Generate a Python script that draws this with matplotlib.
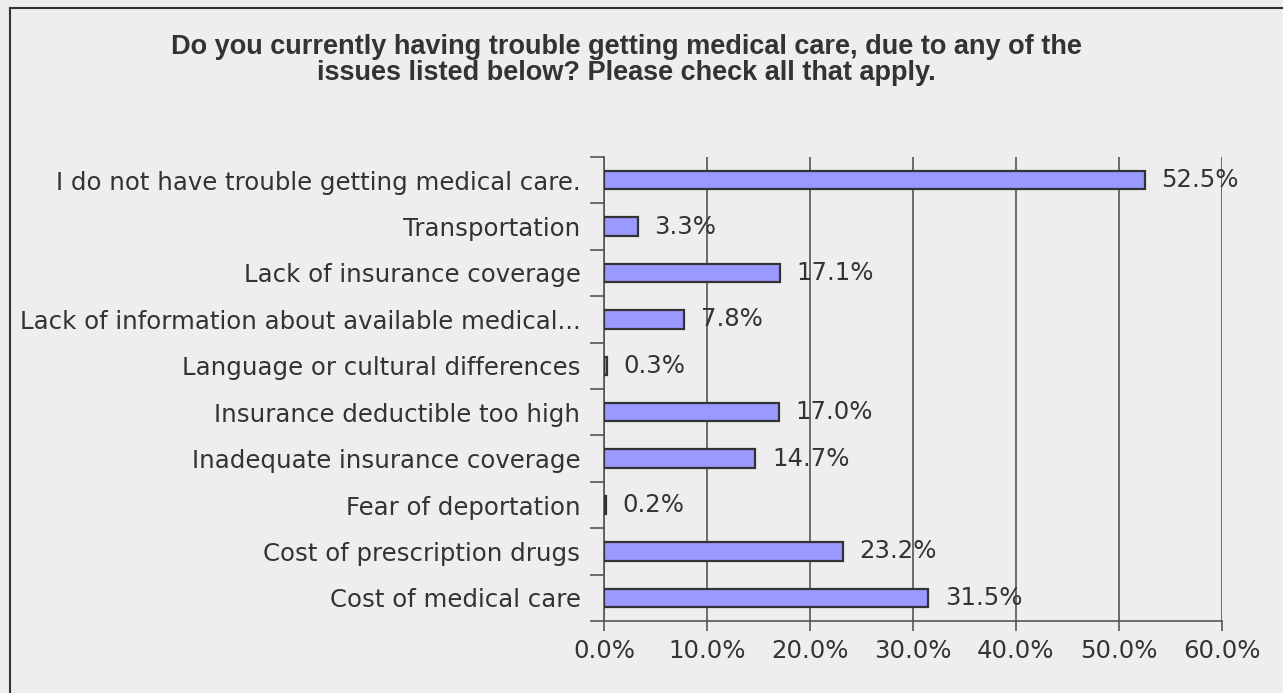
import matplotlib
matplotlib.use('Agg')
import matplotlib.pyplot as plt
from matplotlib.lines import Line2D
from matplotlib.ticker import FixedLocator, NullFormatter

plt.rcParams['font.family'] = ['DejaVu Sans']

# data, top to bottom as in the chart
categories = ['I do not have trouble getting medical care.',
              'Transportation',
              'Lack of insurance coverage',
              'Lack of information about available medical...',
              'Language or cultural differences',
              'Insurance deductible too high',
              'Inadequate insurance coverage',
              'Fear of deportation',
              'Cost of prescription drugs',
              'Cost of medical care']
values = [52.5, 3.3, 17.1, 7.8, 0.3, 17.0, 14.7, 0.2, 23.2, 31.5]
x_ticks = [0, 10, 20, 30, 40, 50, 60]
title = ('Do you currently having trouble getting medical care, due to any of the\n'
         'issues listed below? Please check all that apply.')

bg = '#eeeeee'
txt = '#333333'
grid_c = '#555555'
fs = 17.6

fig = plt.figure(figsize=(12.83, 6.93), dpi=100, facecolor=bg)
ax = fig.add_axes([604 / 1283, 1 - 621 / 693, (1222 - 604) / 1283, (621 - 157) / 693])
ax.set_facecolor(bg)

y_pos = list(range(len(categories)))
ax.barh(y_pos, values, height=0.4, color='#9999ff', edgecolor='#333333', linewidth=1.6, zorder=3)
for y, v in zip(y_pos, values):
    ax.text(v + 1.6, y, '{:.1f}%'.format(v), va='center', ha='left',
            fontsize=fs, color=txt, zorder=4)

ax.set_xlim(0, 60)
ax.set_ylim(len(categories) - 0.5, -0.5)

ax.set_xticks(x_ticks)
ax.set_xticklabels(['{:.1f}%'.format(t) for t in x_ticks], fontsize=fs, color=txt)
ax.tick_params(axis='x', length=7, width=1.2, color=grid_c, pad=6)

# category boundaries get the ticks, labels sit in between
ax.yaxis.set_major_locator(FixedLocator([i - 0.5 for i in range(len(categories) + 1)]))
ax.yaxis.set_major_formatter(NullFormatter())
ax.yaxis.set_minor_locator(FixedLocator(y_pos))
ax.set_yticklabels(categories, minor=True, fontsize=fs, color=txt)
ax.tick_params(axis='y', which='major', length=10, width=1.2, color=grid_c)
ax.tick_params(axis='y', which='minor', length=0, pad=17)

ax.grid(axis='x', color=grid_c, linewidth=1.2, zorder=0)
ax.spines['top'].set_visible(False)
ax.spines['right'].set_visible(False)
ax.spines['left'].set_color(grid_c)
ax.spines['bottom'].set_color(grid_c)
ax.spines['left'].set_linewidth(1.2)
ax.spines['bottom'].set_linewidth(1.2)

fig.text(626 / 1283, 1 - 60 / 693, title, ha='center', va='center', fontsize=19.5,
         fontweight='bold', color=txt, family='Liberation Sans', linespacing=1.05)

# frame lines on the left and top
fig.add_artist(Line2D([9.5 / 1283, 9.5 / 1283], [0, 1 - 8 / 693], color='#333333', linewidth=1.5))
fig.add_artist(Line2D([9.5 / 1283, 1], [1 - 8 / 693, 1 - 8 / 693], color='#333333', linewidth=1.5))

plt.savefig('out.png', dpi=100, facecolor=bg)
